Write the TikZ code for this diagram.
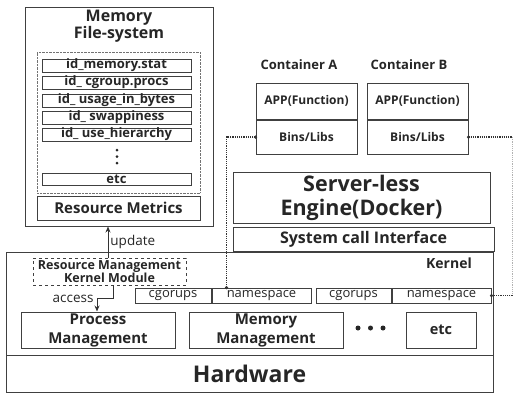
\documentclass[tikz,border=0pt]{standalone}
\usepackage{fontspec}
\setmainfont{Open Sans}
\usetikzlibrary{arrows.meta,calc}

\begin{document}
\begin{tikzpicture}
	[
	 x = 1pt, y = -1pt,
	 every node/.style = {align=center,
	                      inner sep = 0pt,
	                      text = black!85
	                     },
	 box/.style  = {shape=rectangle, draw=black!75, line width=1pt},
	 file/.style = {box, minimum width=149pt, minimum height=13pt,
	                font=\fontsize{13}{13}\selectfont\bfseries},
	 cg/.style   = {box, minimum height=15pt,
	                font=\fontsize{13}{13}\selectfont},
	 mgmt/.style = {box, minimum width=154pt, minimum height=36pt,
	                font=\fontsize{15}{19}\selectfont\bfseries},
	 cont/.style = {box, minimum width=101pt,
	                font=\fontsize{12}{13}\selectfont\bfseries},
	 link/.style = {densely dotted, line width=1.2pt, draw=black!80},
	 pin/.style  = {circle, fill=black!80, minimum size=3.5pt}
	]
	
	\newcommand{\MFS}{Memory\\File-system}
	\newcommand{\RMKM}{Resource Management\\Kernel Module}
	\newcommand{\SLE}{Server-less\\Engine(Docker)}
	
	\useasboundingbox (0,0) rectangle (514,392);
	
	% memory file-system
	\node[box, minimum width=188pt, minimum height=219pt] (mfs) at (119,116.5) {};
	\node[font=\fontsize{16}{17}\selectfont\bfseries] (mfstitle) at (119,26) {\MFS};
	\node[draw=black!55, densely dotted, minimum width=163pt, minimum height=141pt] (files) at (118.5,122.5) {};
	\node[file] (f1) at (116.5,65.5)  {id\_memory.stat};
	\node[file] (f2) at (116.5,82.5)  {id\_ cgroup.procs};
	\node[file] (f3) at (116.5,100.5) {id\_ usage\_in\_bytes};
	\node[file] (f4) at (116.5,117.5) {id\_ swappiness};
	\node[file] (f5) at (116.5,134.5) {id\_ use\_hierarchy};
	\node[file, minimum height=12pt] (f6) at (116.5,179) {etc};
	\foreach \y in {150,156.5,163}
		\fill[black!85] (117,\y) circle (1.5pt);
	\node[box, minimum width=163pt, minimum height=24pt,
	      font=\fontsize{15}{16}\selectfont\bfseries] (metrics) at (118.5,208) {Resource Metrics};
	
	% containers
	\node[font=\fontsize{13}{14}\selectfont\bfseries] (labA) at (299,65) {Container A};
	\node[font=\fontsize{13}{14}\selectfont\bfseries] (labB) at (409,65) {Container B};
	\node[cont, minimum height=36pt] (appA) at (306.5,101) {APP(Function)};
	\node[cont, minimum height=34pt, anchor=north] (binA) at (appA.south) {Bins/Libs};
	\node[cont, minimum height=36pt] (appB) at (417.5,101) {APP(Function)};
	\node[cont, minimum height=34pt, anchor=north] (binB) at (appB.south) {Bins/Libs};
	
	% engine
	\node[box, minimum width=257pt, minimum height=51pt,
	      font=\fontsize{21.5}{24}\selectfont\bfseries] (engine) at (361.5,197.5) {\SLE};
	\node[box, minimum width=261pt, minimum height=24pt,
	      font=\fontsize{16}{17}\selectfont\bfseries] (syscall) at (363.5,239) {System call Interface};
	
	% kernel and hardware
	\node[box, minimum width=487pt, minimum height=103pt] (kernel) at (249.5,303.5) {};
	\node[font=\fontsize{14}{15}\selectfont\bfseries] (kernellbl) at (449,263) {Kernel};
	\node[box, minimum width=487pt, minimum height=37pt,
	      font=\fontsize{23}{26}\selectfont\bfseries] (hw) at (249.5,373.5) {Hardware};
	
	\node[draw=black!75, dashed, line width=0.9pt, minimum width=153pt, minimum height=27pt,
	      font=\fontsize{12.5}{12.5}\selectfont\bfseries] (rmkm) at (109.5,271.5) {\RMKM};
	
	\node[cg, minimum width=76pt] (cgA) at (173,295.5) {cgorups};
	\node[cg, minimum width=99pt, anchor=west] (nsA) at (cgA.east) {namespace};
	\node[cg, minimum width=75pt] (cgB) at (353.5,295.5) {cgorups};
	\node[cg, minimum width=99pt, anchor=west] (nsB) at (cgB.east) {namespace};
	
	\node[mgmt] (proc) at (98,330) {Process\\Management};
	\node[mgmt] (mem) at (266,330) {Memory\\Management};
	\node[box, minimum width=70pt, minimum height=36pt,
	      font=\fontsize{14.5}{15}\selectfont\bfseries] (other) at (441,330) {etc};
	\foreach \x in {358,370.5,383}
		\fill[black!85] (\x,328) circle (2.5pt);
	
	% arrows
	\draw[black!80, line width=0.9pt, -{Stealth[length=6pt,width=5pt]}]
		($(rmkm.north)+(-1.5,0)$) -- ($(rmkm.north |- mfs.south)+(-1.5,0)$)
		node[midway, right=2pt, font=\fontsize{13.5}{14}\selectfont] (updlbl) {update};
	\draw[black!80, line width=0.9pt, -{Stealth[length=6pt,width=5pt]}]
		($(rmkm.south)+(3.5,0)$) -- ++(0,13) -| ($(proc.north)+(-1,0)$)
		node[pos=0.5, left=3pt, font=\fontsize{13.5}{14}\selectfont] (acclbl) {access};
	
	% links
	\coordinate (edge) at (512.5,0);
	\draw[link] (binA.west) -| ($(nsA.north west)+(15,0)$);
	\draw[link] (binB.east) -- (binB.east -| edge);
	\draw[link, draw=black!30] (binB.east -| edge) -- (nsB.east -| edge);
	\draw[link] (nsB.east -| edge) -- (nsB.east);
	\node[pin] (pA1) at (binA.west) {};
	\node[pin] (pA2) at ($(nsA.north west)+(15,0)$) {};
	\node[pin] (pB1) at (binB.east) {};
	\node[pin] (pB2) at (nsB.east) {};
\end{tikzpicture}
\end{document}
